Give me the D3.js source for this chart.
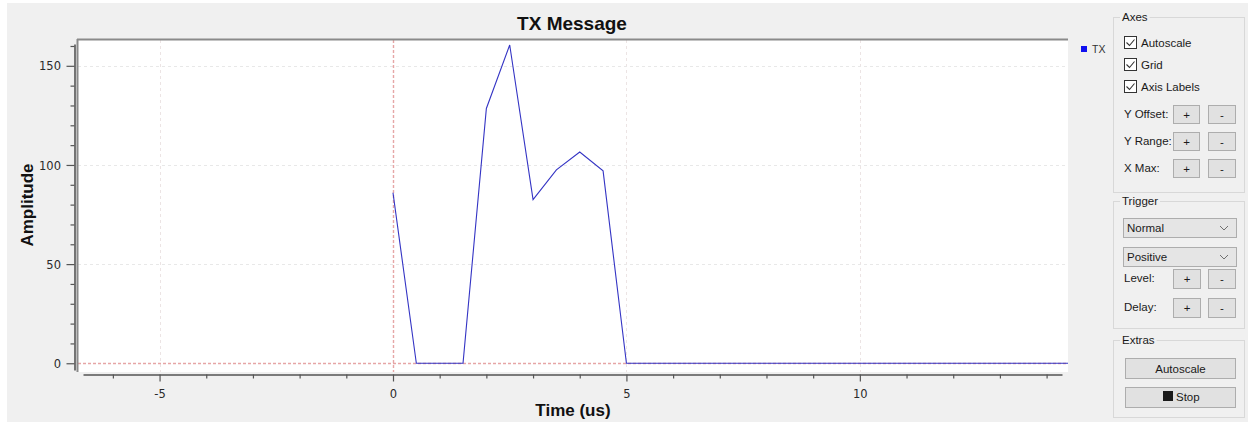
<!DOCTYPE html>
<html>
<head>
<meta charset="utf-8">
<script src="https://cdn.jsdelivr.net/npm/d3@7"></script>
<style>
  body { margin: 0; background: #ffffff; overflow: hidden; }
  svg { display: block; }
</style>
</head>
<body>
<svg id="chart" width="1248" height="423"></svg>
<script>
// ---- data -------------------------------------------------------------
const chartTitle = "TX Message";
const xLabel = "Time (us)";
const yLabel = "Amplitude";
const seriesName = "TX";

// sample times (us) and TX amplitude at each sample
const timeUs = [0, 0.5, 1, 1.5, 2, 2.5, 3, 3.5, 4, 4.5, 5, 5.5, 6, 6.5, 7, 7.5,
                8, 8.5, 9, 9.5, 10, 10.5, 11, 11.5, 12, 12.5, 13, 13.5, 14, 14.5];
const amplitude = [86, 0, 0, 0, 128.5, 160.5, 82.5, 97.5, 106.5, 97, 0, 0, 0, 0, 0, 0,
                   0, 0, 0, 0, 0, 0, 0, 0, 0, 0, 0, 0, 0, 0];

const xMajorTicks = [-5, 0, 5, 10];
const xMinorTicks = [-6, -4, -3, -2, -1, 1, 2, 3, 4, 6, 7, 8, 9, 11, 12, 13, 14];
const yMajorTicks = [0, 50, 100, 150];
const yMinorTicks = [10, 20, 30, 40, 60, 70, 80, 90, 110, 120, 130, 140, 160];

const xDomain = [-6.64, 14.33];
const yDomain = [-3.4, 161];

// trigger markers: time 0 and level 0
const triggerTime = 0;
const triggerLevel = 0;

// ---- layout -----------------------------------------------------------
const svg = d3.select("#chart");
const W = 1248, H = 423;
const canvas = { left: 78, top: 40, right: 1068, bottom: 372 };
const FONT = "'Liberation Sans', Arial, sans-serif";
const TICKFONT = "'DejaVu Sans', Verdana, sans-serif";

const x = d3.scaleLinear().domain(xDomain).range([83, 1062]);
const y = d3.scaleLinear().domain(yDomain).range([370, 44]);

// window background
svg.append("rect").attr("x", 7).attr("y", 3).attr("width", W - 7).attr("height", 419)
  .attr("fill", "#f0f0f0");

// plot canvas
svg.append("rect")
  .attr("x", canvas.left).attr("y", canvas.top)
  .attr("width", canvas.right - canvas.left).attr("height", canvas.bottom - canvas.top)
  .attr("fill", "#ffffff");

svg.append("clipPath").attr("id", "canvasClip").append("rect")
  .attr("x", canvas.left).attr("y", canvas.top)
  .attr("width", canvas.right - canvas.left).attr("height", canvas.bottom - canvas.top);

const plot = svg.append("g").attr("clip-path", "url(#canvasClip)");

// grid
plot.selectAll("line.gx").data(xMajorTicks.filter(d => d !== triggerTime)).join("line")
  .attr("class", "gx")
  .attr("x1", d => Math.round(x(d)) + 0.5).attr("x2", d => Math.round(x(d)) + 0.5)
  .attr("y1", canvas.top).attr("y2", canvas.bottom)
  .attr("stroke", "#ece4e4").attr("stroke-width", 1).attr("stroke-dasharray", "3,3");
plot.selectAll("line.gy").data(yMajorTicks.filter(d => d !== triggerLevel)).join("line")
  .attr("class", "gy")
  .attr("y1", d => Math.round(y(d)) + 0.5).attr("y2", d => Math.round(y(d)) + 0.5)
  .attr("x1", canvas.left).attr("x2", canvas.right)
  .attr("stroke", "#e8e8e8").attr("stroke-width", 1).attr("stroke-dasharray", "3,3");

// trigger markers
plot.append("line").attr("class", "trig")
  .attr("x1", Math.round(x(triggerTime)) + 0.5).attr("x2", Math.round(x(triggerTime)) + 0.5)
  .attr("y1", canvas.top).attr("y2", canvas.bottom);
plot.append("line").attr("class", "trig")
  .attr("y1", Math.round(y(triggerLevel)) + 0.5).attr("y2", Math.round(y(triggerLevel)) + 0.5)
  .attr("x1", canvas.left).attr("x2", canvas.right);
plot.selectAll("line.trig")
  .attr("stroke", "#e6a6a6").attr("stroke-width", 1.4).attr("stroke-dasharray", "3,2");

// TX trace
const series = timeUs.map((t, i) => ({ t, v: amplitude[i] }));
plot.append("path")
  .datum(series)
  .attr("fill", "none")
  .attr("stroke", "#3434c4")
  .attr("stroke-width", 1.1)
  .attr("d", d3.line().x(d => x(d.t)).y(d => y(d.v)));

// sunken canvas frame (dark top/left edge)
svg.append("line").attr("x1", canvas.left - 1).attr("x2", canvas.right)
  .attr("y1", canvas.top - 0.5).attr("y2", canvas.top - 0.5)
  .attr("stroke", "#8a8a8a").attr("stroke-width", 2);
svg.append("line").attr("x1", canvas.left - 0.5).attr("x2", canvas.left - 0.5)
  .attr("y1", canvas.top - 1).attr("y2", canvas.bottom)
  .attr("stroke", "#8a8a8a").attr("stroke-width", 2);

// ---- axes -------------------------------------------------------------
const axisColor = "#555555";
const plainFormat = d => String(d);

function styleAxis(g) {
  g.selectAll(".domain").attr("stroke", axisColor).attr("stroke-width", 1.6);
  g.selectAll(".tick line").attr("stroke", axisColor).attr("stroke-width", 1.2);
}

// x axis: minor then major
const xMinorG = svg.append("g").attr("transform", "translate(0,374.5)")
  .call(d3.axisBottom(x).tickValues(xMinorTicks).tickSize(4).tickSizeOuter(0).tickFormat(""));
xMinorG.select(".domain").remove();
styleAxis(xMinorG);
const xAxisG = svg.append("g").attr("transform", "translate(0,374.5)")
  .call(d3.axisBottom(x).tickValues(xMajorTicks).tickSize(7).tickSizeOuter(0).tickFormat(plainFormat));
styleAxis(xAxisG);
xAxisG.selectAll(".tick text")
  .attr("y", 23).attr("dy", 0)
  .attr("font-family", TICKFONT).attr("font-size", 11.5).attr("fill", "#2a2a2a");

// y axis
const yMinorG = svg.append("g").attr("transform", "translate(74.5,0)")
  .call(d3.axisLeft(y).tickValues(yMinorTicks).tickSize(4).tickSizeOuter(0).tickFormat(""));
yMinorG.select(".domain").remove();
styleAxis(yMinorG);
const yAxisG = svg.append("g").attr("transform", "translate(74.5,0)")
  .call(d3.axisLeft(y).tickValues(yMajorTicks).tickSize(8).tickSizeOuter(0).tickFormat(plainFormat));
styleAxis(yAxisG);
yAxisG.selectAll(".tick text")
  .attr("x", -13.5).attr("dy", "0.36em")
  .attr("font-family", TICKFONT).attr("font-size", 11.5).attr("fill", "#2a2a2a");

// titles
svg.append("text").attr("x", 572).attr("y", 30)
  .attr("text-anchor", "middle").attr("font-family", FONT)
  .attr("font-weight", "bold").attr("font-size", 19).attr("fill", "#111")
  .text(chartTitle);
svg.append("text").attr("x", 573).attr("y", 416)
  .attr("text-anchor", "middle").attr("font-family", FONT)
  .attr("font-weight", "bold").attr("font-size", 17).attr("fill", "#111")
  .text(xLabel);
svg.append("text")
  .attr("transform", "translate(33,205) rotate(-90)")
  .attr("text-anchor", "middle").attr("font-family", FONT)
  .attr("font-weight", "bold").attr("font-size", 17).attr("fill", "#111")
  .text(yLabel);

// legend
const legend = svg.append("g").attr("transform", "translate(1081,46)");
legend.append("rect").attr("width", 6).attr("height", 6).attr("fill", "#1010f0");
legend.append("text").attr("x", 11).attr("y", 6.5)
  .attr("font-family", FONT).attr("font-size", 10.5).attr("fill", "#333")
  .text(seriesName);

// ---- control panel ----------------------------------------------------
const panel = svg.append("g");
const PF = { family: FONT, size: 11.5, color: "#1a1a1a" };

function label(g, tx, ty, str, anchor) {
  return g.append("text").attr("x", tx).attr("y", ty)
    .attr("text-anchor", anchor || "start")
    .attr("font-family", PF.family).attr("font-size", PF.size).attr("fill", PF.color)
    .text(str);
}
function groupBox(bx, by, bw, bh, title) {
  panel.append("rect").attr("x", bx + 0.5).attr("y", by + 0.5)
    .attr("width", bw).attr("height", bh)
    .attr("fill", "none").attr("stroke", "#d8d8d8");
  const t = label(panel, bx + 9, by + 4, title);
  const tw = t.node().getComputedTextLength();
  panel.insert("rect", "text:last-of-type")
    .attr("x", bx + 7).attr("y", by - 2).attr("width", tw + 4).attr("height", 5)
    .attr("fill", "#f0f0f0");
  t.raise();
}
function button(bx, by, bw, bh, str) {
  panel.append("rect").attr("x", bx + 0.5).attr("y", by + 0.5)
    .attr("width", bw).attr("height", bh)
    .attr("fill", "#e1e1e1").attr("stroke", "#adadad");
  if (str) label(panel, bx + bw / 2 + 0.5, by + bh / 2 + 4.5, str, "middle");
}
function checkbox(cx, cy, str) {
  panel.append("rect").attr("x", cx + 0.5).attr("y", cy + 0.5)
    .attr("width", 12).attr("height", 12)
    .attr("fill", "#ffffff").attr("stroke", "#333333");
  panel.append("path")
    .attr("d", `M${cx + 2.5},${cy + 6.5} L${cx + 5.5},${cy + 9.5} L${cx + 10.5},${cy + 3.5}`)
    .attr("fill", "none").attr("stroke", "#333").attr("stroke-width", 1.1);
  label(panel, cx + 17, cy + 10.5, str);
}
function combo(cx, cy, cw, ch, str) {
  panel.append("rect").attr("x", cx + 0.5).attr("y", cy + 0.5)
    .attr("width", cw).attr("height", ch)
    .attr("fill", "#e5e5e5").attr("stroke", "#adadad");
  label(panel, cx + 4, cy + ch / 2 + 4, str);
  const ax = cx + cw - 12, ay = cy + ch / 2 - 1.5;
  panel.append("path").attr("d", `M${ax - 4},${ay} L${ax},${ay + 4} L${ax + 4},${ay}`)
    .attr("fill", "none").attr("stroke", "#707070").attr("stroke-width", 1);
}

// Axes group
groupBox(1113, 17, 131, 175, "Axes");
checkbox(1124, 36, "Autoscale");
checkbox(1124, 58, "Grid");
checkbox(1124, 80, "Axis Labels");
[["Y Offset:", 105], ["Y Range:", 132], ["X Max:", 159]].forEach(([name, by]) => {
  label(panel, 1124, by + 13, name);
  button(1173, by, 26, 18, "+");
  button(1208, by, 27, 18, "-");
});

// Trigger group
groupBox(1113, 201, 131, 127, "Trigger");
combo(1123, 218, 113, 19, "Normal");
combo(1123, 247, 113, 19, "Positive");
[["Level:", 269], ["Delay:", 298]].forEach(([name, by]) => {
  label(panel, 1124, by + 13, name);
  button(1173, by, 27, 19, "+");
  button(1208, by, 27, 19, "-");
});

// Extras group
groupBox(1113, 340, 131, 77, "Extras");
button(1125, 358, 110, 20, "Autoscale");
button(1125, 387, 110, 20, "");
panel.append("rect").attr("x", 1163).attr("y", 391).attr("width", 10).attr("height", 10)
  .attr("fill", "#1a1a1a");
label(panel, 1176, 401, "Stop");
</script>
</body>
</html>
